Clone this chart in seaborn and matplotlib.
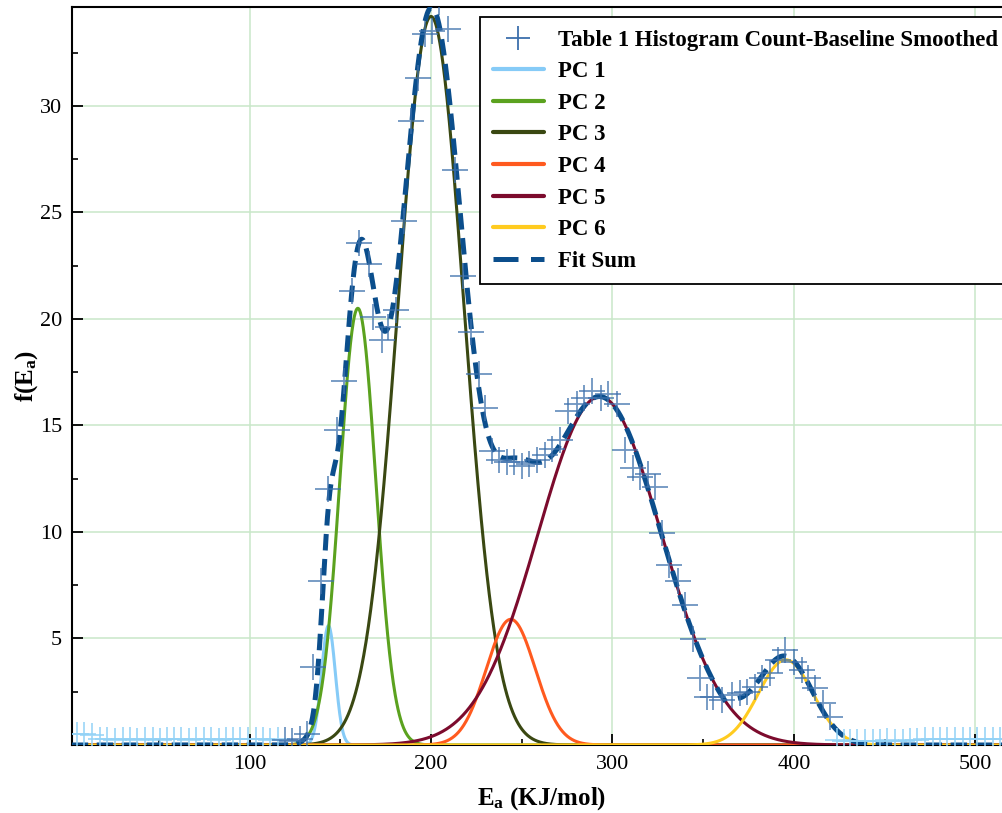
import numpy as np
import pandas as pd
import matplotlib
matplotlib.use("Agg")
import matplotlib.pyplot as plt
import seaborn as sns
from matplotlib.lines import Line2D
from matplotlib.ticker import FixedLocator

# ---------------- data ----------------
# histogram points inside the fitted range (dark crosses)
hist_x = [119.4, 123.6, 127.8, 131.6, 134.9, 139.3, 143.0, 148.2, 152.2, 156.4,
          160.6, 165.6, 168.3, 172.9, 176.5, 180.8, 185.0, 189.0, 193.0, 196.5,
          200.5, 204.5, 209.6, 213.3, 217.6, 221.8, 226.4, 230.0, 233.6, 237.7,
          242.1, 246.0, 250.1, 254.3, 258.3, 262.9, 266.6, 271.2, 275.5, 280.4,
          284.5, 288.7, 293.5, 297.5, 302.4, 307.0, 311.4, 315.3, 319.5, 323.5,
          327.2, 331.4, 336.0, 340.0, 344.3, 348.2, 352.0, 355.6, 360.3, 365.8,
          370.3, 374.0, 378.6, 382.3, 386.9, 391.5, 395.2, 400.1, 404.3, 408.0,
          411.7, 415.8, 420.0]
hist_y = [0.25, 0.2, 0.3, 0.5, 3.68, 7.7, 12.0, 14.8, 17.1, 21.3,
          23.55, 22.6, 20.1, 19.0, 19.6, 20.4, 24.6, 29.3, 31.3, 33.4,
          33.5, 34.9, 33.6, 27.0, 22.0, 19.4, 17.4, 15.8, 13.8, 13.4,
          13.3, 13.3, 13.1, 13.2, 13.4, 13.6, 13.9, 14.3, 15.7, 16.0,
          16.3, 16.6, 16.3, 16.5, 16.0, 13.85, 13.0, 12.6, 12.7, 12.1,
          9.97, 8.43, 7.7, 6.55, 4.96, 3.15, 2.27, 2.27, 2.11, 2.35,
          2.43, 2.5, 2.74, 3.13, 3.37, 3.99, 4.46, 3.91, 3.52, 3.13,
          2.66, 1.96, 1.33]
# histogram points outside the fitted range (faded crosses)
out_x = [5.1, 8.8, 13.0, 17.6, 21.6, 25.9, 30.1, 34.1, 38.2, 42.4, 46.6, 50.6,
         54.3, 58.3, 62.5, 66.7, 70.7, 74.7, 79.0, 83.0, 87.2, 90.9, 95.0, 99.2,
         103.4, 107.4, 111.5, 115.7,
         424.0, 427.5, 430.9, 435.0, 439.2, 443.4, 447.5, 451.5, 455.8, 460.0,
         464.0, 468.0, 472.3, 476.5, 480.5, 484.6, 488.8, 493.0, 497.0, 501.0,
         505.3, 509.5, 513.6]
out_y = [0.5, 0.5, 0.45, 0.3, 0.3, 0.25, 0.3, 0.3, 0.25, 0.3, 0.3, 0.25,
         0.3, 0.3, 0.3, 0.25, 0.3, 0.3, 0.3, 0.25, 0.3, 0.3, 0.3, 0.3,
         0.3, 0.3, 0.25, 0.3,
         0.25, 0.2, 0.2, 0.2, 0.2, 0.2, 0.2, 0.25, 0.2, 0.2,
         0.25, 0.25, 0.3, 0.3, 0.3, 0.3, 0.3, 0.3, 0.3, 0.3,
         0.3, 0.3, 0.3]

# peak components (Gaussian fit parameters)
pc_labels = ["PC 1", "PC 2", "PC 3", "PC 4", "PC 5", "PC 6"]
pc_centers = [143.5, 159.7, 200.0, 244.0, 293.0, 395.5]
pc_heights = [5.6, 20.5, 34.2, 5.9, 16.35, 4.0]
pc_sigmas = [3.8, 9.9, 18.1, 13.5, 34.0, 15.0]

# fit-sum drawn in two pieces: (start, end, components included)
fit_segments = [(2.0, 363.0, [0, 1, 2, 3, 4]), (369.0, 520.0, [0, 1, 2, 3, 4, 5])]

x_ticks = [100, 200, 300, 400, 500]
y_ticks = [5, 10, 15, 20, 25, 30]

# ---------------- styles ----------------
pc_colors = ["#86CBF7", "#5BA21F", "#3A4812", "#FF5A1F", "#7C0B2D", "#FFCB1F"]
fit_color = "#0B4E8C"
cross_color = "#3D70AC"
faded_color = "#92D2F6"
grid_color = "#C9E7C9"

sns.set_theme(style="ticks")
plt.rcParams["font.family"] = ["Liberation Serif", "DejaVu Serif"]
plt.rcParams["mathtext.fontset"] = "custom"
plt.rcParams["mathtext.rm"] = "Liberation Serif"
plt.rcParams["mathtext.bf"] = "Liberation Serif:bold"
plt.rcParams["mathtext.it"] = "Liberation Serif:italic"
for k in ["text.color", "axes.labelcolor", "xtick.color", "ytick.color", "axes.edgecolor"]:
    plt.rcParams[k] = "black"

fig = plt.figure(figsize=(10.02, 8.13), dpi=100)
ax = fig.add_axes([71.7 / 1002, 68 / 813, (1011.6 - 71.7) / 1002, 737.7 / 813])

x_lo, x_hi = 2.0, 520.0
grid = np.linspace(x_lo, x_hi, 2000)

def comp(i, xs):
    return pc_heights[i] * np.exp(-((xs - pc_centers[i]) ** 2) / (2 * pc_sigmas[i] ** 2))

for i, lab in enumerate(pc_labels):
    df = pd.DataFrame({"x": grid, "y": comp(i, grid)})
    sns.lineplot(data=df, x="x", y="y", color=pc_colors[i], lw=2.2, ax=ax,
                 zorder=3, estimator=None, sort=False)

for (a, b, idx) in fit_segments:
    xs = grid[(grid >= a) & (grid <= b)]
    ys = np.zeros_like(xs)
    for i in idx:
        ys = ys + comp(i, xs)
    df = pd.DataFrame({"x": xs, "y": ys})
    sns.lineplot(data=df, x="x", y="y", color=fit_color, lw=3.6, ax=ax,
                 zorder=4, estimator=None, sort=False, dashes=False,
                 linestyle=(0, (3.3, 1.7)))

sns.scatterplot(x=out_x, y=out_y, marker="+", s=300, color=faded_color,
                linewidth=1.3, alpha=0.85, ax=ax, zorder=5)
sns.scatterplot(x=hist_x, y=hist_y, marker="+", s=330, color=cross_color,
                linewidth=1.3, alpha=0.75, ax=ax, zorder=5)

ax.set_xlim(x_lo, x_hi)
ax.set_ylim(0, 34.63)
ax.xaxis.set_major_locator(FixedLocator(x_ticks))
ax.xaxis.set_minor_locator(FixedLocator([50, 150, 250, 350, 450]))
ax.yaxis.set_major_locator(FixedLocator(y_ticks))
ax.yaxis.set_minor_locator(FixedLocator([2.5, 7.5, 12.5, 17.5, 22.5, 27.5, 32.5]))
ax.grid(True, which="major", color=grid_color, lw=1.1, zorder=0)
ax.set_axisbelow(True)

for s in ax.spines.values():
    s.set_linewidth(1.5)
    s.set_color("black")
ax.tick_params(which="major", direction="in", length=8, width=1.3, labelsize=16,
               pad=7, colors="black")
ax.tick_params(which="minor", direction="in", length=4.5, width=1.2, colors="black")
ax.tick_params(top=False, right=False)

ax.set_xlabel(r"E$_{\mathbf{a}}$ (KJ/mol)", fontsize=18, fontweight="bold", labelpad=8)
ax.set_ylabel(r"f(E$_{\mathbf{a}}$)", fontsize=18, fontweight="bold", labelpad=0)

handles = [Line2D([], [], ls="none", marker="+", ms=17, mew=1.3, color=cross_color)]
for i in range(len(pc_labels)):
    handles.append(Line2D([], [], color=pc_colors[i], lw=3))
handles.append(Line2D([], [], color=fit_color, lw=3.6, linestyle=(0, (5, 2.5))))
labels = ["Table 1 Histogram Count-Baseline Smoothed"] + pc_labels + ["Fit Sum"]

leg = ax.legend(handles, labels, loc="upper left",
                bbox_to_anchor=(480 / 1002, 1 - 17 / 813), bbox_transform=fig.transFigure,
                frameon=True, fancybox=False, framealpha=1, edgecolor="black",
                prop={"family": "Liberation Serif", "weight": "bold", "size": 16.5},
                handlelength=2.25, handletextpad=0.6, labelspacing=0.46,
                borderpad=0.55, borderaxespad=0)
leg.get_frame().set_linewidth(1.3)
leg.set_zorder(10)
for t in leg.get_texts():
    t.set_color("black")

fig.savefig("out.png", dpi=100)
